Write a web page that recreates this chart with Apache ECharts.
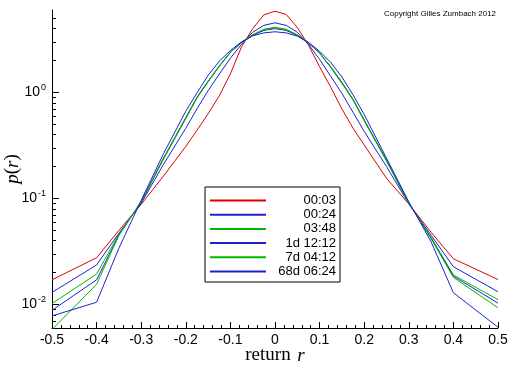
<!DOCTYPE html>
<html>
<head>
<meta charset="utf-8">
<script src="https://cdn.jsdelivr.net/npm/echarts@6/dist/echarts.min.js"></script>
<style>html,body{margin:0;padding:0;background:#fff;}#chart{width:512px;height:366px;}</style>
</head>
<body>
<div id="chart"></div>
<script>
// ---- data ----
const returns = [-0.5, -0.4, -0.35, -0.3, -0.25, -0.2, -0.175, -0.15, -0.125, -0.1, -0.075, -0.05, -0.025, 0,
  0.025, 0.05, 0.075, 0.1, 0.125, 0.15, 0.175, 0.2, 0.25, 0.3, 0.35, 0.4, 0.5];
const seriesNames = ['00:03', '00:24', '03:48', '1d 12:12', '7d 04:12', '68d 06:24'];
const p_0003 = [0.0171, 0.0276, 0.050, 0.088, 0.163, 0.31, 0.44, 0.63, 0.93, 1.50, 2.7, 4.0, 5.4, 5.85,
  5.45, 4.1, 2.8, 1.75, 1.12, 0.70, 0.46, 0.32, 0.155, 0.089, 0.048, 0.027, 0.0172];
const p_0024 = [0.0130, 0.0236, 0.047, 0.090, 0.21, 0.46, 0.70, 1.04, 1.49, 2.11, 2.85, 3.7, 4.3, 4.54,
  4.3, 3.7, 2.85, 2.05, 1.42, 0.98, 0.65, 0.43, 0.20, 0.089, 0.045, 0.0227, 0.0132];
const p_0348 = [0.0102, 0.0194, 0.046, 0.092, 0.235, 0.567, 0.89, 1.26, 1.76, 2.39, 2.97, 3.5, 3.95, 4.12,
  3.95, 3.5, 2.95, 2.35, 1.72, 1.22, 0.85, 0.54, 0.225, 0.090, 0.043, 0.019, 0.0111];
const p_1d = [0.0088, 0.0171, 0.045, 0.093, 0.24, 0.58, 0.90, 1.28, 1.78, 2.40, 2.95, 3.45, 3.85, 4.0,
  3.85, 3.45, 2.93, 2.35, 1.74, 1.24, 0.86, 0.55, 0.23, 0.091, 0.042, 0.0185, 0.0103];
const p_7d = [0.0058, 0.0155, 0.045, 0.094, 0.24, 0.575, 0.89, 1.27, 1.77, 2.40, 2.98, 3.5, 3.92, 4.08,
  3.92, 3.5, 2.96, 2.36, 1.75, 1.25, 0.86, 0.55, 0.23, 0.091, 0.042, 0.018, 0.0093];
const p_68d = [0.0078, 0.0105, 0.034, 0.096, 0.265, 0.667, 0.99, 1.45, 1.97, 2.49, 3.0, 3.42, 3.65, 3.74,
  3.65, 3.40, 2.97, 2.45, 1.92, 1.40, 0.95, 0.62, 0.24, 0.093, 0.039, 0.0129, 0.0061];
const majorTicksY = [0.01, 0.1, 1];
const minorTicksY = [0.007, 0.008, 0.009, 0.02, 0.03, 0.04, 0.05, 0.06, 0.07, 0.08, 0.09,
  0.2, 0.3, 0.4, 0.5, 0.6, 0.7, 0.8, 0.9, 2, 3, 4, 5];

// ---- styles ----
const allValues = [p_0003, p_0024, p_0348, p_1d, p_7d, p_68d];
const colors = ['#e00000', '#2020d0', '#00b800', '#2020d0', '#00b800', '#2020d0'];
const sans = 'Liberation Sans, Arial, sans-serif';
const serif = 'Liberation Serif, Times New Roman, serif';

const expOf = v => Math.round(Math.log10(v));

const chart = echarts.init(document.getElementById('chart'), null, {renderer: 'canvas'});
chart.setOption({
  animation: false,
  backgroundColor: '#fff',
  title: {
    text: 'Copyright Gilles Zumbach 2012',
    left: 384, top: 10, padding: 0,
    textStyle: {fontSize: 8, fontWeight: 'normal', color: '#000', fontFamily: sans}
  },
  grid: {left: 52, right: 14, top: 10, bottom: 38, containLabel: false, outerBoundsMode: 'none'},
  legend: {
    orient: 'vertical',
    left: 205, top: 187,
    padding: [7, 4, 4, 4],
    borderColor: '#000', borderWidth: 1,
    backgroundColor: '#fff',
    itemWidth: 56, itemHeight: 14, itemGap: 1.2,
    itemStyle: {opacity: 0},
    data: seriesNames,
    formatter: n => '{a|' + n + '}',
    textStyle: {
      color: '#000', fontFamily: sans, fontSize: 13,
      rich: {a: {width: 65, align: 'right', fontSize: 13, lineHeight: 14, fontFamily: sans, color: '#000'}}
    }
  },
  xAxis: {
    type: 'value', min: -0.5, max: 0.5, interval: 0.1,
    name: '{a|return}  {b|r}',
    nameLocation: 'middle', nameGap: 18, nameMoveOverlap: false,
    nameTextStyle: {rich: {
      a: {fontFamily: serif, fontSize: 19, color: '#000'},
      b: {fontFamily: serif, fontSize: 19, fontStyle: 'italic', color: '#000'}
    }},
    axisLine: {onZero: false, lineStyle: {color: '#000', width: 1}},
    axisTick: {inside: true, length: 6, lineStyle: {color: '#000'}},
    minorTick: {show: true, splitNumber: 5, length: 3, lineStyle: {color: '#000'}},
    splitLine: {show: false},
    axisLabel: {
      color: '#000', fontFamily: sans, fontSize: 14, margin: 5,
      formatter: v => (Math.abs(v) < 1e-9 ? '0' : String(Math.round(v * 10) / 10))
    }
  },
  yAxis: [{
    type: 'log', logBase: 10, min: 0.006, max: 6,
    position: 'left', offset: 0,
    name: '{i|p}{n|(}{i|r}{n|)}',
    nameLocation: 'middle', nameGap: 30, nameRotate: 90, nameMoveOverlap: false,
    nameTextStyle: {rich: {
      i: {fontFamily: serif, fontSize: 19, fontStyle: 'italic', color: '#000'},
      n: {fontFamily: serif, fontSize: 19, color: '#000'}
    }},
    axisLine: {show: true, onZero: false, lineStyle: {color: '#000', width: 1}},
    axisTick: {inside: true, length: 7, customValues: majorTicksY, lineStyle: {color: '#000'}},
    splitLine: {show: false},
    axisLabel: {
      customValues: majorTicksY, margin: 6,
      formatter: v => '{b|10}{s|' + expOf(v) + '}',
      rich: {
        b: {fontFamily: sans, fontSize: 14, color: '#000'},
        s: {fontFamily: sans, fontSize: 9, color: '#000', padding: [0, 0, 9, 1]}
      }
    }
  }, {
    type: 'log', logBase: 10, min: 0.006, max: 6,
    position: 'left', offset: 0,
    axisLine: {show: false, onZero: false},
    axisTick: {inside: true, length: 4, customValues: minorTicksY, lineStyle: {color: '#000'}},
    axisLabel: {show: false},
    splitLine: {show: false}
  }],
  series: seriesNames.map((name, k) => ({
    name: name,
    type: 'line',
    yAxisIndex: 0,
    symbol: 'none',
    smooth: false,
    clip: true,
    lineStyle: {width: 1, color: colors[k]},
    itemStyle: {color: colors[k]},
    data: returns.map((r, i) => [r, allValues[k][i]])
  }))
});
</script>
</body>
</html>
